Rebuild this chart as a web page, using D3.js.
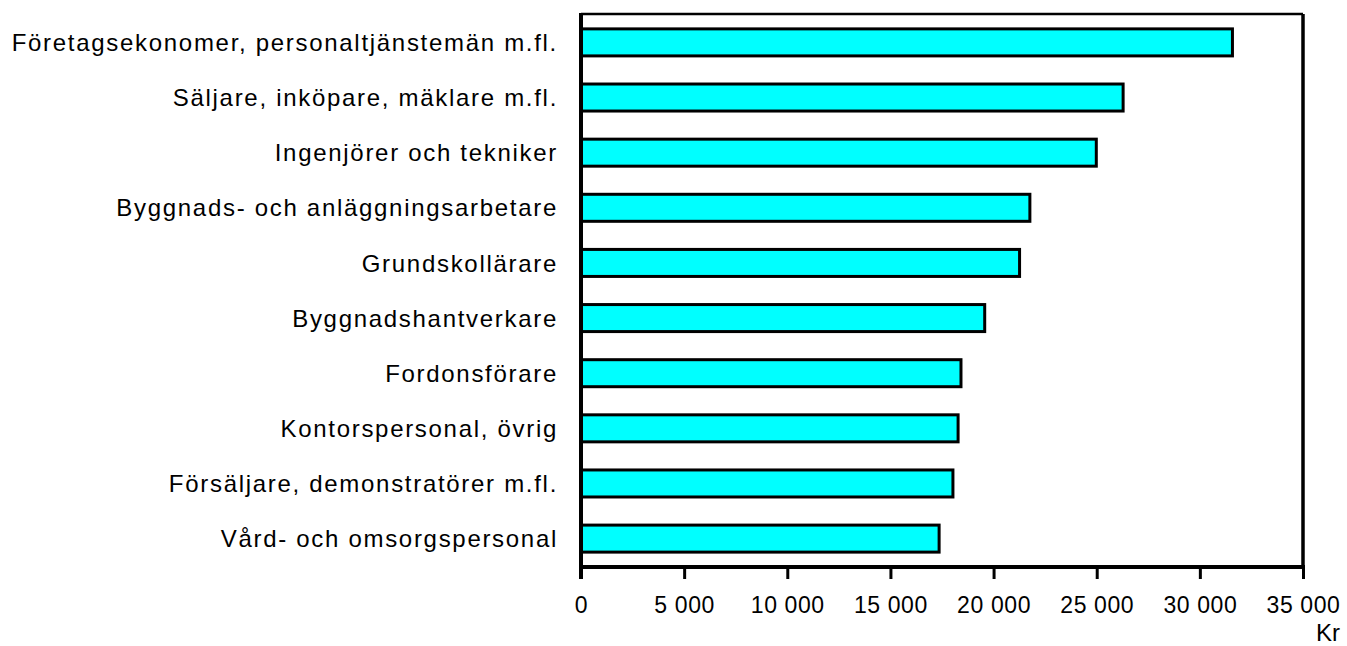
<!DOCTYPE html>
<html><head><meta charset="utf-8">
<script src="https://cdn.jsdelivr.net/npm/d3@7"></script>
<style>
html,body{margin:0;padding:0;background:#fff;}
svg{display:block;}
text{font-family:"Liberation Sans",Arial,sans-serif;fill:#000;}
</style></head>
<body>
<svg id="c" width="1347" height="646"></svg>
<script>
const categories = [
  "Företagsekonomer, personaltjänstemän m.fl.",
  "Säljare, inköpare, mäklare m.fl.",
  "Ingenjörer och tekniker",
  "Byggnads- och anläggningsarbetare",
  "Grundskollärare",
  "Byggnadshantverkare",
  "Fordonsförare",
  "Kontorspersonal, övrig",
  "Försäljare, demonstratörer m.fl.",
  "Vård- och omsorgspersonal"
];
const values = [31580, 26280, 24980, 21760, 21260, 19570, 18420, 18280, 18030, 17360];
const xTicks = [0, 5000, 10000, 15000, 20000, 25000, 30000, 35000];
const unitLabel = "Kr";

const svg = d3.select("#c");
const L = 581, R = 1303, T = 14, B = 567;

const x = d3.scaleLinear().domain([0, 35000]).range([L, R]);
const y = d3.scaleBand().domain(categories).range([T, B]).paddingInner(0.51).paddingOuter(0.27);

const fmt = v => v === 0 ? "0" : d3.format(",")(v).replace(/,/g, " ");

// frame top and right
svg.append("line").attr("x1", L).attr("x2", R).attr("y1", T).attr("y2", T)
  .attr("stroke", "#000").attr("stroke-width", 2.5);
svg.append("line").attr("x1", R).attr("x2", R).attr("y1", T).attr("y2", B)
  .attr("stroke", "#000").attr("stroke-width", 3.5);

// bars
svg.append("g").selectAll("rect").data(values).join("rect")
  .attr("x", x(0))
  .attr("y", (d, i) => y(categories[i]))
  .attr("width", d => x(d) - x(0))
  .attr("height", y.bandwidth())
  .attr("fill", "#00ffff")
  .attr("stroke", "#000")
  .attr("stroke-width", 3);

// x axis
const xAxis = d3.axisBottom(x).tickValues(xTicks).tickFormat(fmt).tickSize(12).tickPadding(18);
const gx = svg.append("g").attr("transform", `translate(0,${B})`).call(xAxis);
gx.select(".domain").attr("stroke", "#000").attr("stroke-width", 4).attr("d", `M${L - 2},0H${R + 2}`);
gx.selectAll(".tick line").attr("stroke", "#000").attr("stroke-width", 3);
gx.selectAll(".tick text").attr("font-size", 23).attr("font-family", "Liberation Sans, Arial, sans-serif")
  .attr("letter-spacing", "0.6px");

// y axis line
svg.append("line").attr("x1", L).attr("x2", L).attr("y1", T - 1).attr("y2", B + 12)
  .attr("stroke", "#000").attr("stroke-width", 4);

// category labels
svg.append("g").selectAll("text").data(categories).join("text")
  .attr("x", 558)
  .attr("y", d => y(d) + y.bandwidth() / 2)
  .attr("dy", "0.36em")
  .attr("text-anchor", "end")
  .attr("font-size", 24)
  .attr("letter-spacing", "1.7px")
  .text(d => d);

// unit label
svg.append("text").attr("x", 1340).attr("y", 641).attr("text-anchor", "end")
  .attr("font-size", 24).text(unitLabel);
</script>
</body></html>
